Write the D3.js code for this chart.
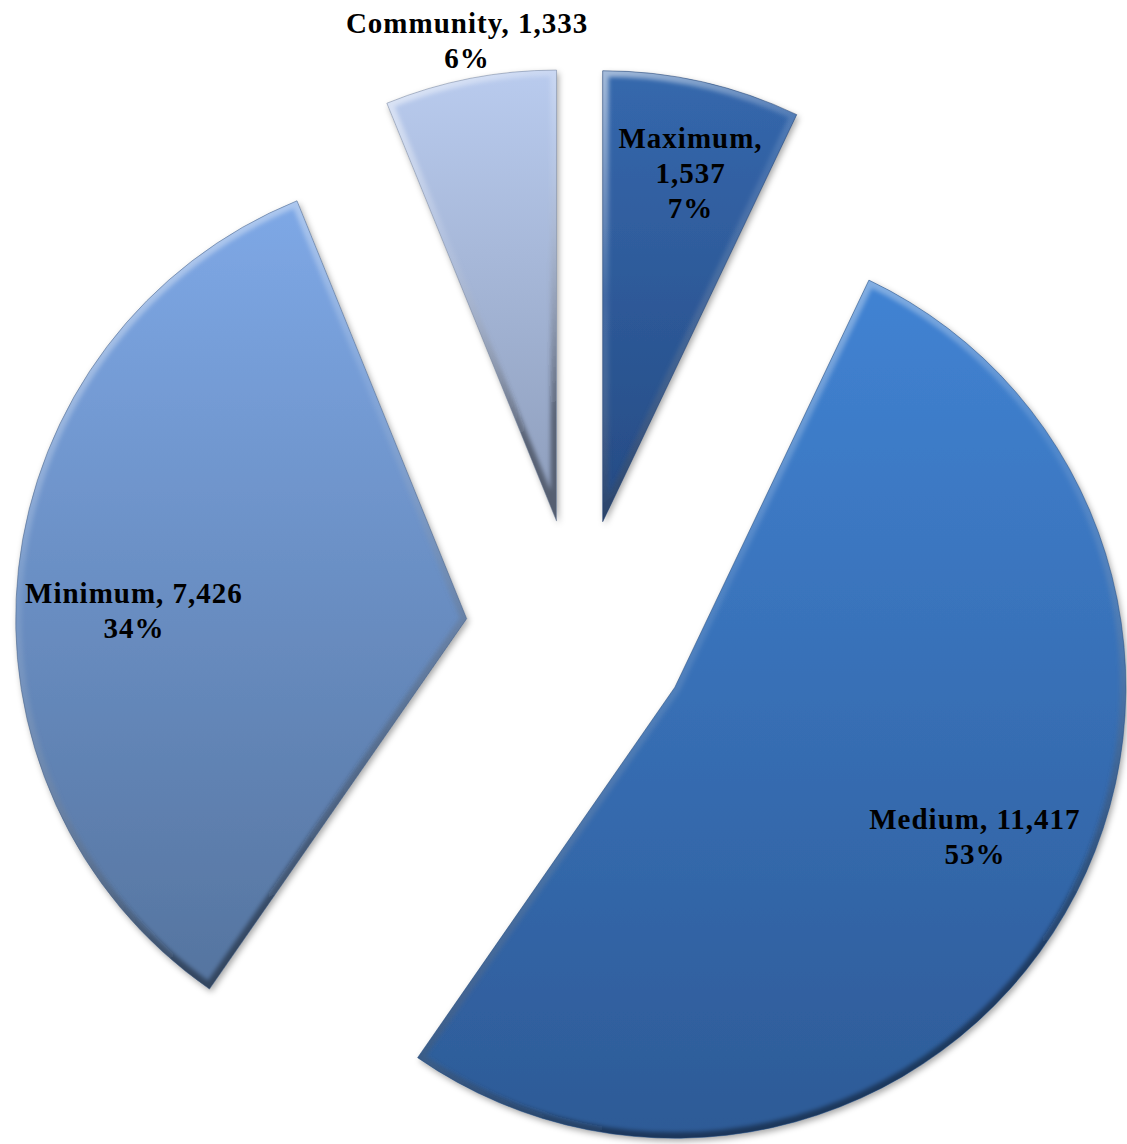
<!DOCTYPE html>
<html>
<head>
<meta charset="utf-8">
<script src="https://cdn.jsdelivr.net/npm/d3@7"></script>
<style>
  html, body { margin: 0; padding: 0; background: #ffffff; }
  svg { display: block; }
</style>
</head>
<body>
<svg id="chart" width="1127" height="1144"></svg>
<script>
// ---- data ----
const categories = ["Maximum", "Medium", "Minimum", "Community"];
const values = [1537, 11417, 7426, 1333];
const valueLabels = ["1,537", "11,417", "7,426", "1,333"];
const percentLabels = ["7%", "53%", "34%", "6%"];
const topColors = ["#3568ad", "#4183d3", "#7ea8e6", "#b9cbee"];
const bottomColors = ["#264b84", "#2d5a96", "#55749f", "#8d9dbb"];

// ---- layout ----
const W = 1127, H = 1144;
const cx = 578, cy = 631, R = 451, explode = 112;
// label placement: radius factor and angular shift (degrees) relative to slice mid-angle
const labelPlace = {
  Maximum:   { f: 0.797, da: 1.4 },
  Medium:    { f: 0.743, da: -3.7 },
  Minimum:   { f: 0.738, da: -5.0 },
  Community: { f: 1.083, da: 0.5 }
};
const lineH = 35;

const svg = d3.select("#chart");
const defs = svg.append("defs");

const shadow = defs.append("filter").attr("id", "shadow")
  .attr("x", "-10%").attr("y", "-10%").attr("width", "120%").attr("height", "120%");
shadow.append("feDropShadow").attr("dx", 2).attr("dy", 3)
  .attr("stdDeviation", 3).attr("flood-color", "#000").attr("flood-opacity", 0.35);

const blur = defs.append("filter").attr("id", "bevelBlur")
  .attr("x", "-10%").attr("y", "-10%").attr("width", "120%").attr("height", "120%");
blur.append("feGaussianBlur").attr("stdDeviation", 2.2);

const bevelGrad = defs.append("linearGradient").attr("id", "bevelGrad")
  .attr("x1", 0).attr("y1", 0).attr("x2", 0.35).attr("y2", 1);
bevelGrad.append("stop").attr("offset", "0%").attr("stop-color", "#ffffff").attr("stop-opacity", 0.55);
bevelGrad.append("stop").attr("offset", "45%").attr("stop-color", "#ffffff").attr("stop-opacity", 0.1);
bevelGrad.append("stop").attr("offset", "100%").attr("stop-color", "#000000").attr("stop-opacity", 0.4);

categories.forEach((c, i) => {
  const g = defs.append("linearGradient").attr("id", "fill" + i)
    .attr("x1", 0).attr("y1", 0).attr("x2", 0).attr("y2", 1);
  g.append("stop").attr("offset", "0%").attr("stop-color", topColors[i]);
  g.append("stop").attr("offset", "100%").attr("stop-color", bottomColors[i]);
});

const pie = d3.pie().sort(null).value(d => d);
const arcs = pie(values);
const arc = d3.arc().innerRadius(0).outerRadius(R);

const slices = svg.selectAll("g.slice").data(arcs).enter().append("g")
  .attr("class", "slice")
  .attr("transform", d => {
    const m = (d.startAngle + d.endAngle) / 2;
    return `translate(${cx + explode * Math.sin(m)},${cy - explode * Math.cos(m)})`;
  });

slices.each(function(d, i) {
  const g = d3.select(this);
  const path = arc(d);
  defs.append("clipPath").attr("id", "clip" + i).append("path").attr("d", path);
  g.append("path").attr("d", path).attr("fill", `url(#fill${i})`).attr("filter", "url(#shadow)");
  const bev = g.append("g").attr("clip-path", `url(#clip${i})`);
  bev.append("path").attr("d", path).attr("fill", "none")
    .attr("stroke", "url(#bevelGrad)").attr("stroke-width", 12)
    .attr("stroke-linejoin", "round").attr("filter", "url(#bevelBlur)");
  g.append("path").attr("d", path).attr("fill", "none")
    .attr("stroke", d3.color(bottomColors[i]).darker(0.6)).attr("stroke-opacity", 0.5)
    .attr("stroke-width", 1);
});

// labels
slices.each(function(d, i) {
  const p = labelPlace[categories[i]];
  const m = (d.startAngle + d.endAngle) / 2 + p.da * Math.PI / 180;
  const r = R * p.f;
  const x = r * Math.sin(m), y = -r * Math.cos(m);
  const lines = categories[i] === "Maximum"
    ? [categories[i] + ",", valueLabels[i], percentLabels[i]]
    : [categories[i] + ", " + valueLabels[i], percentLabels[i]];
  const t = d3.select(this).append("text")
    .attr("text-anchor", "middle")
    .attr("font-family", "'Liberation Serif', 'DejaVu Serif', serif")
    .attr("font-weight", "bold")
    .attr("font-size", 29)
    .attr("letter-spacing", 1.0)
    .attr("fill", "#000");
  const y0 = y - (lines.length - 1) * lineH / 2 + 10;
  lines.forEach((ln, k) => {
    t.append("tspan").attr("x", x).attr("y", y0 + k * lineH).text(ln);
  });
});
</script>
</body>
</html>
